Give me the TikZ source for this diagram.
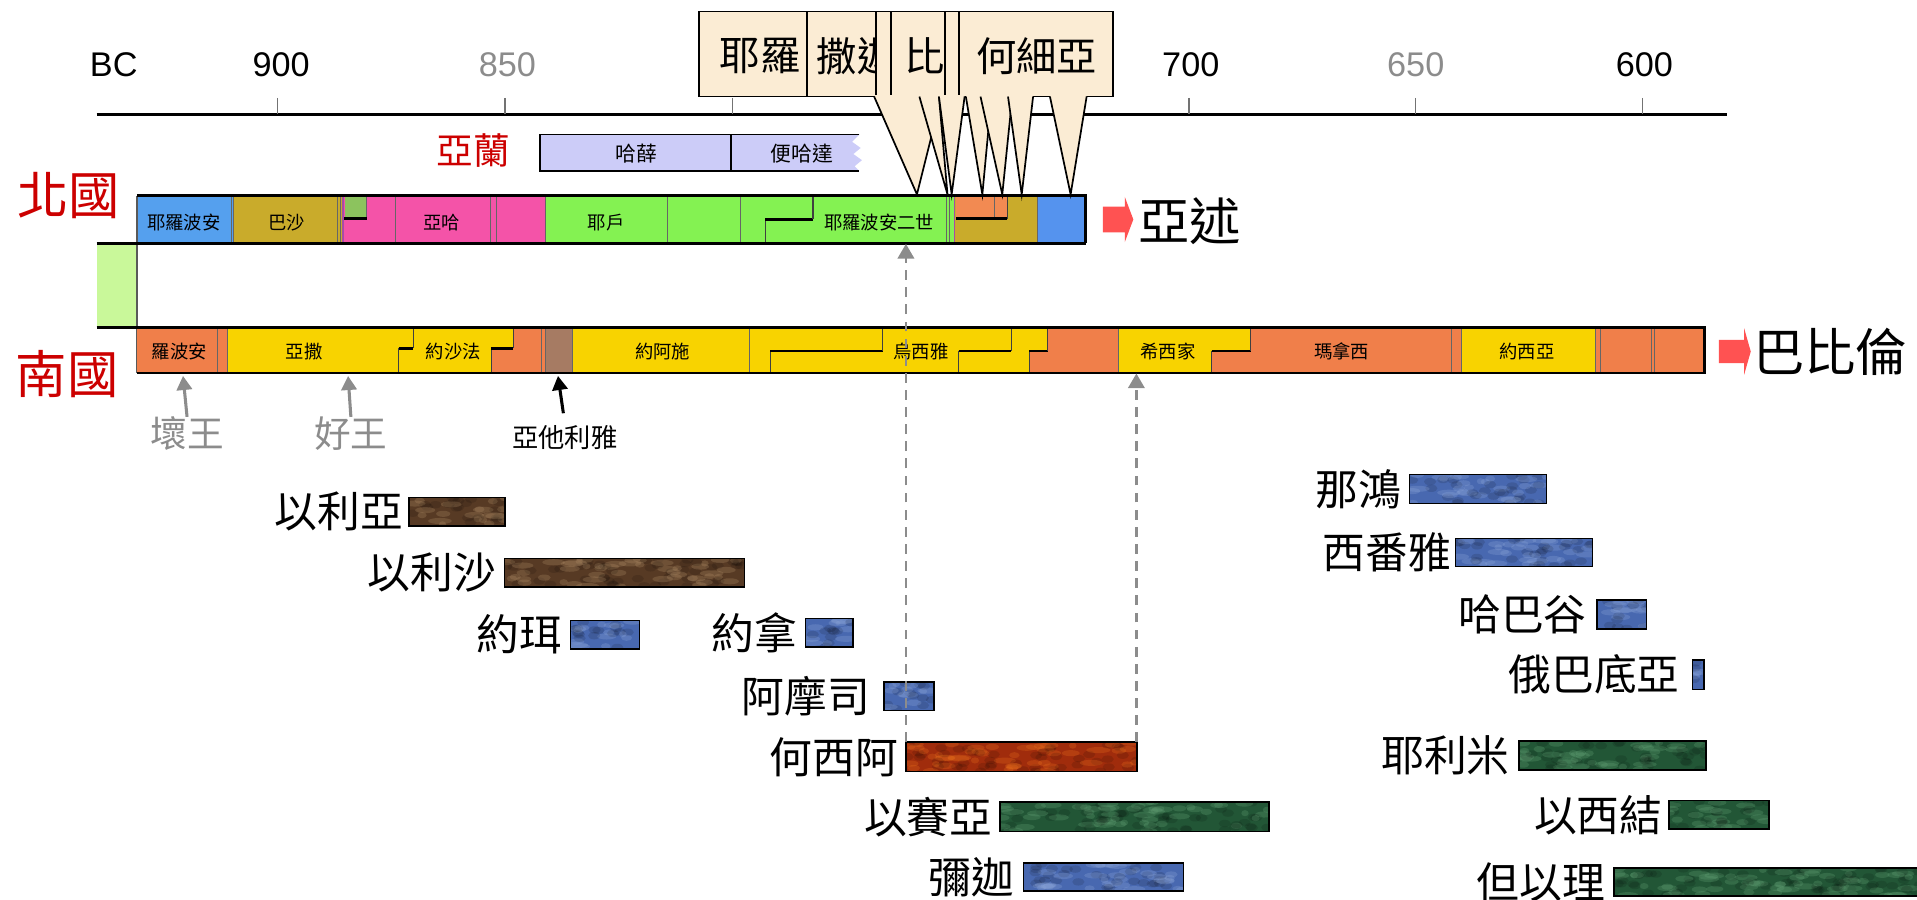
\documentclass[tikz,border=0pt]{standalone}
\usepackage{fontspec}
\setmainfont{Liberation Sans}
\newfontfamily\cjk{Noto Sans CJK TC}
\usetikzlibrary{arrows.meta}
\definecolor{kred}{HTML}{CC0000}
\definecolor{dgray}{HTML}{8C8C8C}
\definecolor{cream}{HTML}{FBECD4}
\definecolor{nblue}{HTML}{55A0EE}
\definecolor{nolive}{HTML}{C9AB2B}
\definecolor{npink}{HTML}{F453A8}
\definecolor{nsq}{HTML}{8CC35E}
\definecolor{ngreen}{HTML}{84F252}
\definecolor{norange}{HTML}{F28A52}
\definecolor{nblueb}{HTML}{5593EE}
\definecolor{ugreen}{HTML}{C9F89A}
\definecolor{sorange}{HTML}{F07F4A}
\definecolor{syellow}{HTML}{F8D300}
\definecolor{sbrown}{HTML}{A67B63}
\definecolor{lav}{HTML}{CCCCF8}
\definecolor{rarrow}{HTML}{FF5252}
\definecolor{pbrown}{HTML}{573A24}
\definecolor{pblue}{HTML}{4868B0}
\definecolor{pred}{HTML}{A02C0C}
\definecolor{pgreen}{HTML}{225636}
\definecolor{hbrown}{HTML}{B08E68}
\definecolor{hblue}{HTML}{8FA8DA}
\definecolor{hred}{HTML}{E8701C}
\definecolor{hgreen}{HTML}{63A276}
\tikzset{
  yr/.style={font=\fontsize{28}{30}\selectfont, inner sep=0},
  small/.style={font=\cjk\fontsize{15}{16}\selectfont, inner sep=0},
  mid/.style={font=\cjk\fontsize{17}{18}\selectfont, inner sep=0},
  kingdom/.style={font=\cjk\fontsize{42}{44}\selectfont, text=kred, inner sep=0},
  nation/.style={font=\cjk\fontsize{42}{44}\selectfont, inner sep=0},
  prop/.style={font=\cjk\fontsize{35}{36}\selectfont, anchor=east, inner sep=0},
  pbar/.style={draw=black, line width=1.3},
  sepline/.style={draw=black!60, line width=0.8},
  stepv/.style={draw=black!75, line width=0.9},
  steph/.style={draw=black, line width=2.2},
  frame/.style={draw=black, line width=2.2},
  callout/.style={fill=cream, draw=black, line width=1.4},
  calltext/.style={font=\cjk\fontsize{33}{34}\selectfont, inner sep=0},
  dashconn/.style={draw=dgray, line width=1.8, dash pattern=on 8pt off 6pt, -{Triangle[length=12pt,width=13.5pt]}},
  kingarrow/.style={line width=2.5, -{Triangle[length=11.5pt,width=12.5pt]}},
}
\begin{document}
\begin{tikzpicture}[x=1pt,y=-1pt]
\useasboundingbox (0,0) rectangle (1568,736);
\pgfmathsetseed{7}

% ---------------- time axis
\draw[line width=2.5] (79,93.5) -- (1412.5,93.5);
\foreach \tx in {227,413,599,785,972.5,1157.5,1343.5}
  \draw[black!55, line width=1] (\tx,80) -- (\tx,93.5);
\node[yr] (bc) at (93,53) {BC};
\node[yr] (y900) at (230,53) {900};
\node[yr, text=dgray] (y850) at (415,53) {850};
\node[yr] (y700) at (974,53) {700};
\node[yr, text=dgray] (y650) at (1158,53) {650};
\node[yr] (y600) at (1345,53) {600};

% ---------------- Aram bar
\fill[lav] (442,110) -- (703,110) -- (697,116) -- (704,121) -- (698,126) -- (705,131) -- (699,136) -- (703,140) -- (442,140) -- cycle;
\draw[line width=1.5] (703,110) -- (442,110) -- (442,140) -- (703,140);
\draw[line width=1.2] (598,110) -- (598,140);
\node[font=\cjk\fontsize{30}{31}\selectfont, text=kred, inner sep=0] (aram) at (387,123) {亞蘭};
\node[mid] (hazael) at (520.5,126) {哈薛};
\node[mid] (benhadad) at (656,126) {便哈達};

% ---------------- North kingdom bar
\fill[nblue] (112,160) rectangle (191,199);
\fill[nolive] (191,160) rectangle (281,199);
\fill[npink] (281,160) rectangle (446,199);
\fill[nsq] (282,160) rectangle (299.5,179);
\fill[ngreen] (446,160) rectangle (780,199);
\fill[nolive] (780,160) rectangle (849,199);
\fill[norange] (782,160) rectangle (824,179);
\fill[nblueb] (849,160) rectangle (888,199);
\foreach \sx in {189,191,275.8,278.6,323.4,400.8,406.3,446,545.6,606,774,776.7,849}
  \draw[sepline] (\sx,160) -- (\sx,199);
\draw[violet!70, line width=1.2] (280.7,160) -- (280.7,199);
\draw[violet!70, line width=1.2] (780.5,160) -- (780.5,199);
\draw[sepline] (813.8,160) -- (813.8,179);
\draw[sepline] (299.5,160) -- (299.5,179);
\draw[steph] (281.5,179) -- (300,179);
\draw[stepv] (626,199) -- (626,179.4);
\draw[steph] (626,179.4) -- (665,179.4);
\draw[stepv] (665,179.4) -- (665,160);
\draw[steph] (782,179) -- (824,179);
\draw[stepv] (824,179) -- (824,160);
% united kingdom
\fill[ugreen] (79,199) rectangle (112,268);
\draw[black!65, line width=1] (112,160) -- (112,305);
\draw[frame] (112,160) -- (888,160) -- (888,199);
\draw[frame] (79,199) -- (888,199);
\node[small] (jeroboam) at (150.3,182) {耶羅波安};
\node[small] (baasha) at (234.5,182) {巴沙};
\node[small] (ahab) at (361,182) {亞哈};
\node[small] (jehu) at (495.7,182) {耶戶};
\node[small] (jeroboamII) at (719,182) {耶羅波安二世};
\node[kingdom] (north) at (56,160) {北國};

% ---------------- South kingdom bar
\fill[sorange] (112,268) rectangle (186,305);
\fill[syellow] (186,268) rectangle (443,305);
\fill[sorange] (402,305) -- (402,285) -- (420,285) -- (420,268) -- (446,268) -- (446,305) -- cycle;
\fill[sbrown] (446,268) rectangle (468,305);
\fill[syellow] (468,268) rectangle (915,305);
\fill[sorange] (842,305) -- (842,287) -- (857,287) -- (857,268) -- (915,268) -- (915,305) -- cycle;
\fill[syellow] (915,268) rectangle (1023,305);
\fill[sorange] (991,305) -- (991,287) -- (1023,287) -- (1023,268) -- (1195.5,268) -- (1195.5,305) -- cycle;
\fill[syellow] (1195.5,268) rectangle (1305,305);
\fill[sorange] (1305,268) rectangle (1394,305);
\foreach \sx in {178,186,443,446,468,613,915,1187.5,1195.5,1305,1309,1350.5,1353.5}
  \draw[sepline] (\sx,268) -- (\sx,305);
\foreach \a/\b/\h in {326/338/285, 402/420/285, 630/722/287, 784/827/287, 842/857/287, 991/1023/287}{
  \draw[stepv] (\a,305) -- (\a,\h);
  \draw[steph] (\a,\h) -- (\b,\h);
  \draw[stepv] (\b,\h) -- (\b,268);
}
\draw[frame] (79,268) -- (1394,268) -- (1394,305) -- (112,305);
\node[small] (rehoboam) at (146.6,287.5) {羅波安};
\node[small] (asa) at (248.8,287.5) {亞撒};
\node[small] (jehoshaphat) at (370.8,287.5) {約沙法};
\node[small] (joash) at (542,287.5) {約阿施};
\node[small] (uzziah) at (753.3,287.5) {烏西雅};
\node[small] (hezekiah) at (955.4,287.5) {希西家};
\node[small] (manasseh) at (1097.5,287.5) {瑪拿西};
\node[small] (josiah) at (1249,287.5) {約西亞};
\node[kingdom] (south) at (55,306) {南國};

% ---------------- exile arrows
\fill[rarrow] (902,169) -- (920,169) -- (920,161) -- (927,179.5) -- (920,198) -- (920,190) -- (902,190) -- cycle;
\node[nation] (assyria) at (973,181) {亞述};
\fill[rarrow] (1406,278) -- (1426.6,278) -- (1426.6,268.5) -- (1432,287.5) -- (1426.6,306.5) -- (1426.6,297) -- (1406,297) -- cycle;
\node[nation] (babylon) at (1497,288) {巴比倫};

% ---------------- king markers below south bar
\node[font=\cjk\fontsize{30}{31}\selectfont, text=dgray, inner sep=0] (bad) at (153,355) {壞王};
\node[font=\cjk\fontsize{30}{31}\selectfont, text=dgray, inner sep=0] (good) at (287,355) {好王};
\node[font=\cjk\fontsize{21.5}{22}\selectfont, inner sep=0] (athaliah) at (462,358) {亞他利雅};
\coordinate (badtip) at (149.7,307.5);
\coordinate (goodtip) at (284.7,307.5);
\coordinate (athtip) at (456.4,307.5);
\coordinate (athfoot) at (460.8,338);
\draw[kingarrow, dgray] (bad.north) -- (badtip);
\draw[kingarrow, dgray] (good.north) -- (goodtip);
\draw[kingarrow, black] (athfoot) -- (athtip);

% ---------------- prophets
\foreach \nm/\lx/\xa/\ya/\xb/\yb/\col/\hl in {
  以利亞/330/334.6/406.8/413/430/pbrown/hbrown,
  以利沙/406/412.6/456.7/609/480/pbrown/hbrown,
  約珥/460/466.6/507.4/523/530.6/pblue/hblue,
  約拿/652/659/505.8/697.5/529/pblue/hblue,
  阿摩司/712/723/557.8/764/581/pblue/hblue,
  何西阿/735/741/607/930/631/pred/hred,
  以賽亞/812/818/656/1038/680/pgreen/hgreen,
  彌迦/830/837/706/968/729/pblue/hblue,
  那鴻/1146/1153/388.2/1265/411.7/pblue/hblue,
  西番雅/1187/1190.5/440.3/1302.6/463.5/pblue/hblue,
  哈巴谷/1298/1306/490.8/1346.8/514.5/pblue/hblue,
  俄巴底亞/1374/1384.4/539.8/1393.8/563.8/pblue/hblue,
  耶利米/1235/1242.5/606/1395.5/629.8/pgreen/hgreen,
  以西結/1360/1365/654.9/1447/678.3/pgreen/hgreen,
  但以理/1313/1320/710.2/1575/733/pgreen/hgreen}{
  \begin{scope}
    \clip (\xa,\ya) rectangle (\xb,\yb);
    \fill[\col] (\xa,\ya) rectangle (\xb,\yb);
    \pgfmathtruncatemacro\nblob{(\xb-\xa)/4+1}
    \foreach \k in {1,...,\nblob}{
      \pgfmathsetmacro\bx{\xa+rnd*(\xb-\xa)}
      \pgfmathsetmacro\by{\ya+rnd*(\yb-\ya)}
      \pgfmathsetmacro\bw{3+rnd*7}
      \fill[\hl, opacity=0.28] (\bx,\by) ellipse ({\bw} and 2.5);
      \pgfmathsetmacro\cx{\xa+rnd*(\xb-\xa)}
      \pgfmathsetmacro\cy{\ya+rnd*(\yb-\ya)}
      \fill[black, opacity=0.12] (\cx,\cy) ellipse (5 and 3);
    }
  \end{scope}
  \draw[pbar] (\xa,\ya) rectangle (\xb,\yb);
  \node[prop] (p-\nm) at (\lx,{(\ya+\yb)/2}) {\nm};
}

% ---------------- dashed connectors from Hosea
\coordinate (hoseaL) at (741,607);
\coordinate (hoseaR) at (929.5,607);
\coordinate (northhit) at (741,199.5);
\coordinate (southhit) at (929.5,305.5);
\draw[dashconn] (hoseaL) -- (northhit);
\draw[dashconn] (hoseaR) -- (southhit);

% ---------------- callouts
\draw[callout] (572,9.5) rectangle (660,79);
\begin{scope}\clip (572,9.5) rectangle (660,79);
  \node[calltext, anchor=west] (c1) at (588.5,46) {耶羅};
\end{scope}
\draw[callout] (660,9.5) rectangle (716.6,79);
\begin{scope}\clip (660,9.5) rectangle (716.6,79);
  \node[calltext, anchor=west] (c2) at (668,46) {撒迦};
\end{scope}
\draw[callout] (716.6,9.5) rectangle (728.5,79);
\draw[callout] (728.5,9.5) rectangle (773,79);
\begin{scope}\clip (728.5,9.5) rectangle (773,79);
  \node[calltext, anchor=west] (c4) at (740,46) {比加};
\end{scope}
\draw[callout] (773,9.5) rectangle (784.5,79);
\draw[callout] (784.5,9.5) rectangle (910.5,79);
\node[calltext] (c6) at (848,46) {何細亞};
% tails
\foreach \a/\b/\t in {715/770/750, 752/768/775, 768/789/778.4, 790/811/803.5, 802/828/819.8, 824.5/845/835.7, 858.8/888.8/875.7}{
  \fill[cream] (\a,77.8) -- (\t,159) -- (\b,77.8) -- cycle;
  \draw[line width=1.4, line join=miter] (\a,79) -- (\t,159) -- (\b,79);
}
\end{tikzpicture}
\end{document}
